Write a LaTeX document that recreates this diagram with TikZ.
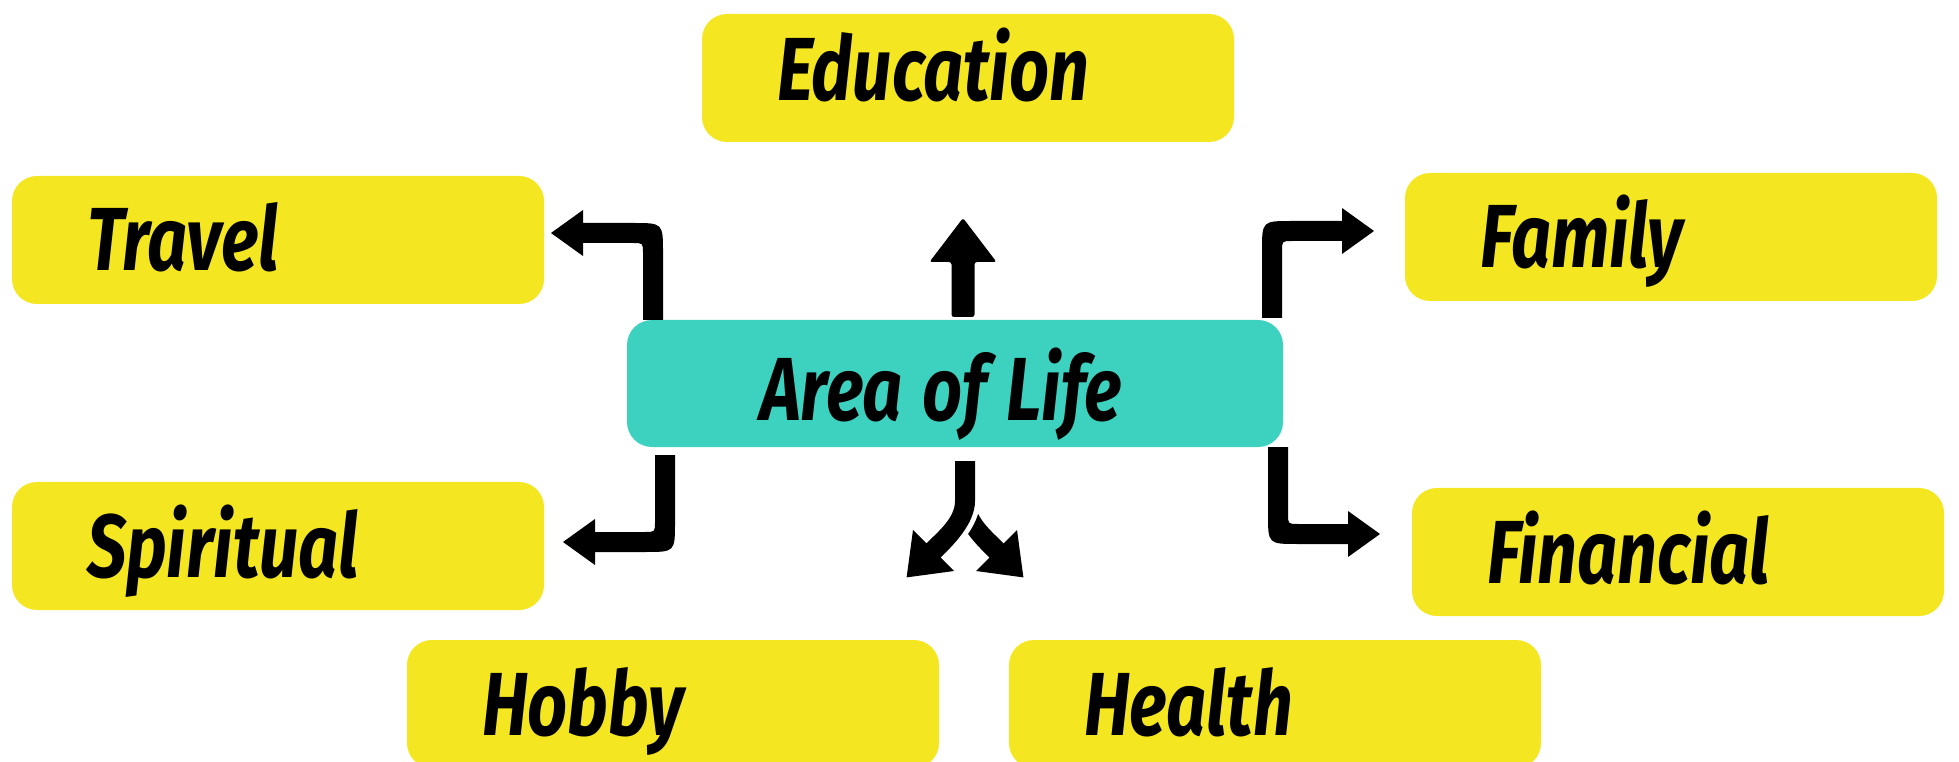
\documentclass[tikz,border=0pt]{standalone}
\usepackage{fontspec}
\newfontfamily\boxfont{Fira Sans}[FakeStretch=0.78]
\DeclareRobustCommand\boxtype{\boxfont\bfseries\itshape\fontsize{51}{60}\selectfont}
\usetikzlibrary{positioning,calc}

\definecolor{areayellow}{HTML}{F4E722}
\definecolor{areateal}{HTML}{3DD1BF}

\begin{document}
\begin{tikzpicture}[
    x=0.2mm, y=-0.2mm,
    box/.style={rectangle, fill=areayellow, rounded corners=5mm, anchor=north west,
        outer sep=0pt, inner xsep=15mm, inner ysep=0pt, minimum height=25.6mm,
        text width=76.4mm, align=left, text height=12.4mm, text depth=0pt,
        font=\boxtype},
    hub/.style={box, fill=areateal, inner xsep=26.6mm, text width=78mm,
        minimum height=25.4mm, text height=15mm},
    % bent arrow: up from the origin, then left to the tip
    pics/elbow/.style={code={
        \fill (-10,0) -- (10,0) -- (10,-67) .. controls (10,-97) .. (-20,-97)
            -- (-70,-97) -- (-70,-110) -- (-102,-87) -- (-70,-64) -- (-70,-77)
            -- (-20,-77) .. controls (-10,-77) .. (-10,-67) -- cycle;
    }},
    % straight arrow pointing up
    pics/rise/.style={code={
        \fill[rounded corners=0.5mm] (-11.5,0) -- (11.5,0) -- (11.5,-55) -- (33.5,-55)
            -- (0,-99) -- (-33.5,-55) -- (-11.5,-55) -- cycle;
    }},
    % one branch of the fork, curving down-left
    pics/branch/.style={code={
        \fill (-10,0) -- (10,0) -- (10,40) .. controls (10,63) and (-12.4,84.6) .. (-24.4,96.6)
            -- (-11,110) -- (-58.4,116.4) -- (-52,69) -- (-38.6,82.4)
            .. controls (-26.6,70.4) and (-10,57) .. (-10,40) -- cycle;
    }},
    pics/gap/.style={code={
        \fill[white] (-15,0) -- (15,0) -- (15,40) .. controls (15,65) and (-8.9,88.1) .. (-20.9,100.1)
            -- (-42.1,78.9) .. controls (-30.1,66.9) and (-15,55) .. (-15,40) -- cycle;
    }}
]
\useasboundingbox (0,0) rectangle (1959,762);

% centre
\node[hub] (life) at (627,320) {\spaceskip=0.22em\relax Area of Life};

% areas round it
\node[box, text depth=3.2mm] (education) at (702,14) {Education};
\node[box] (travel) at (12,176) {Travel};
\node[box] (family) at (1405,173) {Family};
\node[box] (spiritual) at (12,482) {Spiritual};
\node[box] (financial) at (1412,488) {Financial};
\node[box] (hobby) at (407,640) {Hobby};
\node[box] (health) at (1009,640) {Health};

% Arrows
\pic at ($(life.north)+(8,-3)$) {rise};
\pic at ($(life.north west)+(26,0)$) {elbow};
\pic[xscale=-1] at ($(life.north east)+(-11,-2)$) {elbow};
\pic[yscale=-1] at ($(life.south west)+(38,8)$) {elbow};
\pic[xscale=-1, yscale=-1] at ($(life.south east)+(-5,0)$) {elbow};

% fork towards hobby and health
\coordinate (fork) at ($(life.south)+(10,14)$);
\pic[xscale=-1] at (fork) {branch};
\pic at (fork) {gap};
\pic at (fork) {branch};

\end{tikzpicture}
\end{document}
